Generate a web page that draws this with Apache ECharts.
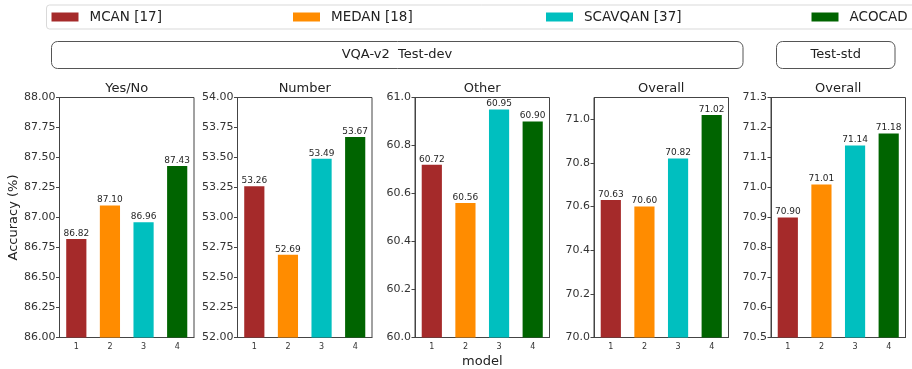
<!DOCTYPE html>
<html>
<head>
<meta charset="utf-8">
<script src="https://cdn.jsdelivr.net/npm/echarts@6/dist/echarts.min.js"></script>
<style>
  html, body { margin: 0; padding: 0; background: #fff; }
  #chart { width: 912px; height: 369px; }
</style>
</head>
<body>
<div id="chart"></div>
<script>
// Models compared and their x-axis ids
const models = ['MCAN [17]', 'MEDAN [18]', 'SCAVQAN [37]', 'ACOCAD'];
const modelIds = ['1', '2', '3', '4'];
const modelColors = ['#a52a2a', '#ff8c00', '#00bfbf', '#006400'];

// Accuracy (%) per model on VQA-v2 test-dev splits
const yesNo = [86.82, 87.10, 86.96, 87.43];
const number = [53.26, 52.69, 53.49, 53.67];
const other = [60.72, 60.56, 60.95, 60.90];
const overallDev = [70.63, 70.60, 70.82, 71.02];
// Accuracy (%) per model on VQA-v2 test-std
const overallStd = [70.90, 71.01, 71.14, 71.18];

// Panel titles and y-axis ranges / tick steps
const panelTitles = ['Yes/No', 'Number', 'Other', 'Overall', 'Overall'];
const panelValues = [yesNo, number, other, overallDev, overallStd];
const yMins = [86, 52, 60, 70, 70.5];
const yMaxs = [88, 54, 61, 71.1, 71.3];
const yIntervals = [0.25, 0.25, 0.2, 0.2, 0.1];
const yDecimals = [2, 2, 1, 1, 1];

// Layout of the five plot areas (px)
const gridLefts = [59.5, 237.5, 415, 594, 771];
const gridWidth = 134.5;
const gridTop = 97.5;
const gridHeight = 240;
const axisColor = '#444';
const font = 'DejaVu Sans';

const grids = [], xAxes = [], yAxes = [], series = [], graphics = [];

panelValues.forEach((vals, p) => {
  grids.push({
    left: gridLefts[p], top: gridTop, width: gridWidth, height: gridHeight,
    show: true, borderColor: axisColor, borderWidth: 1,
    containLabel: false, outerBoundsMode: 'none'
  });
  xAxes.push({
    type: 'category', gridIndex: p, data: modelIds,
    axisLine: { lineStyle: { color: axisColor } },
    axisTick: { alignWithLabel: true, length: 3.5, lineStyle: { color: axisColor } },
    axisLabel: { fontSize: 8, color: '#333', margin: 5, fontFamily: font },
    name: p === 2 ? 'model' : '',
    nameLocation: 'middle', nameGap: 17,
    nameTextStyle: { fontSize: 13, color: '#222', fontFamily: font }
  });
  const dec = yDecimals[p];
  yAxes.push({
    type: 'value', gridIndex: p,
    min: yMins[p], max: yMaxs[p], interval: yIntervals[p],
    splitLine: { show: false },
    axisLine: { show: true, lineStyle: { color: axisColor } },
    axisTick: { show: true, length: 3.5, lineStyle: { color: axisColor } },
    axisLabel: {
      fontSize: 11, color: '#333', margin: 4, fontFamily: font,
      showMaxLabel: p !== 3,
      formatter: v => v.toFixed(dec)
    },
    name: p === 0 ? 'Accuracy (%)' : '',
    nameLocation: 'middle', nameGap: 37,
    nameTextStyle: { fontSize: 13, color: '#222', fontFamily: font }
  });
  models.forEach((m, k) => {
    series.push({
      type: 'bar', name: m, xAxisIndex: p, yAxisIndex: p,
      data: modelIds.map((id, j) => (j === k ? vals[k] : '-')),
      barWidth: '60%', barGap: '-100%',
      itemStyle: { color: modelColors[k] },
      label: {
        show: true, position: 'top', distance: 1,
        fontSize: 9, color: '#262626', fontFamily: font,
        formatter: d => d.value.toFixed(2)
      }
    });
  });
  graphics.push({
    type: 'text', x: gridLefts[p] + gridWidth / 2, y: 88.5,
    style: { text: panelTitles[p], align: 'center', verticalAlign: 'middle',
             fontSize: 13, fill: '#222', fontFamily: font }
  });
});

// Legend frame
graphics.push({
  type: 'rect', shape: { x: 46.5, y: 5, width: 900, height: 24, r: 3 },
  style: { fill: '#fff', stroke: '#d9d9d9', lineWidth: 1 }, z: -1
});
// Split header boxes
graphics.push({
  type: 'rect', shape: { x: 51.5, y: 41.5, width: 691.5, height: 27, r: 6 },
  style: { fill: 'none', stroke: '#555', lineWidth: 1 }
});
graphics.push({
  type: 'text', x: 397, y: 55,
  style: { text: 'VQA-v2  Test-dev', align: 'center', verticalAlign: 'middle',
           fontSize: 13, fill: '#222', fontFamily: font }
});
graphics.push({
  type: 'rect', shape: { x: 776.5, y: 41.5, width: 118.5, height: 27, r: 6 },
  style: { fill: 'none', stroke: '#555', lineWidth: 1 }
});
graphics.push({
  type: 'text', x: 835.7, y: 55,
  style: { text: 'Test-std', align: 'center', verticalAlign: 'middle',
           fontSize: 13, fill: '#222', fontFamily: font }
});

// One legend per model, placed along the top band
const legendLefts = [51.5, 293, 546, 811.5];
const legends = models.map((m, k) => ({
  data: [m], left: legendLefts[k], top: 10, padding: 0,
  icon: 'rect', itemWidth: 27, itemHeight: 9,
  selectedMode: false,
  textStyle: { fontSize: 13.5, color: '#222', fontFamily: font, padding: [0, 0, 0, 6] }
}));

const chart = echarts.init(document.getElementById('chart'), null, { renderer: 'canvas' });
chart.setOption({
  animation: false,
  textStyle: { fontFamily: font },
  legend: legends,
  grid: grids,
  xAxis: xAxes,
  yAxis: yAxes,
  series: series,
  graphic: graphics
});
</script>
</body>
</html>
